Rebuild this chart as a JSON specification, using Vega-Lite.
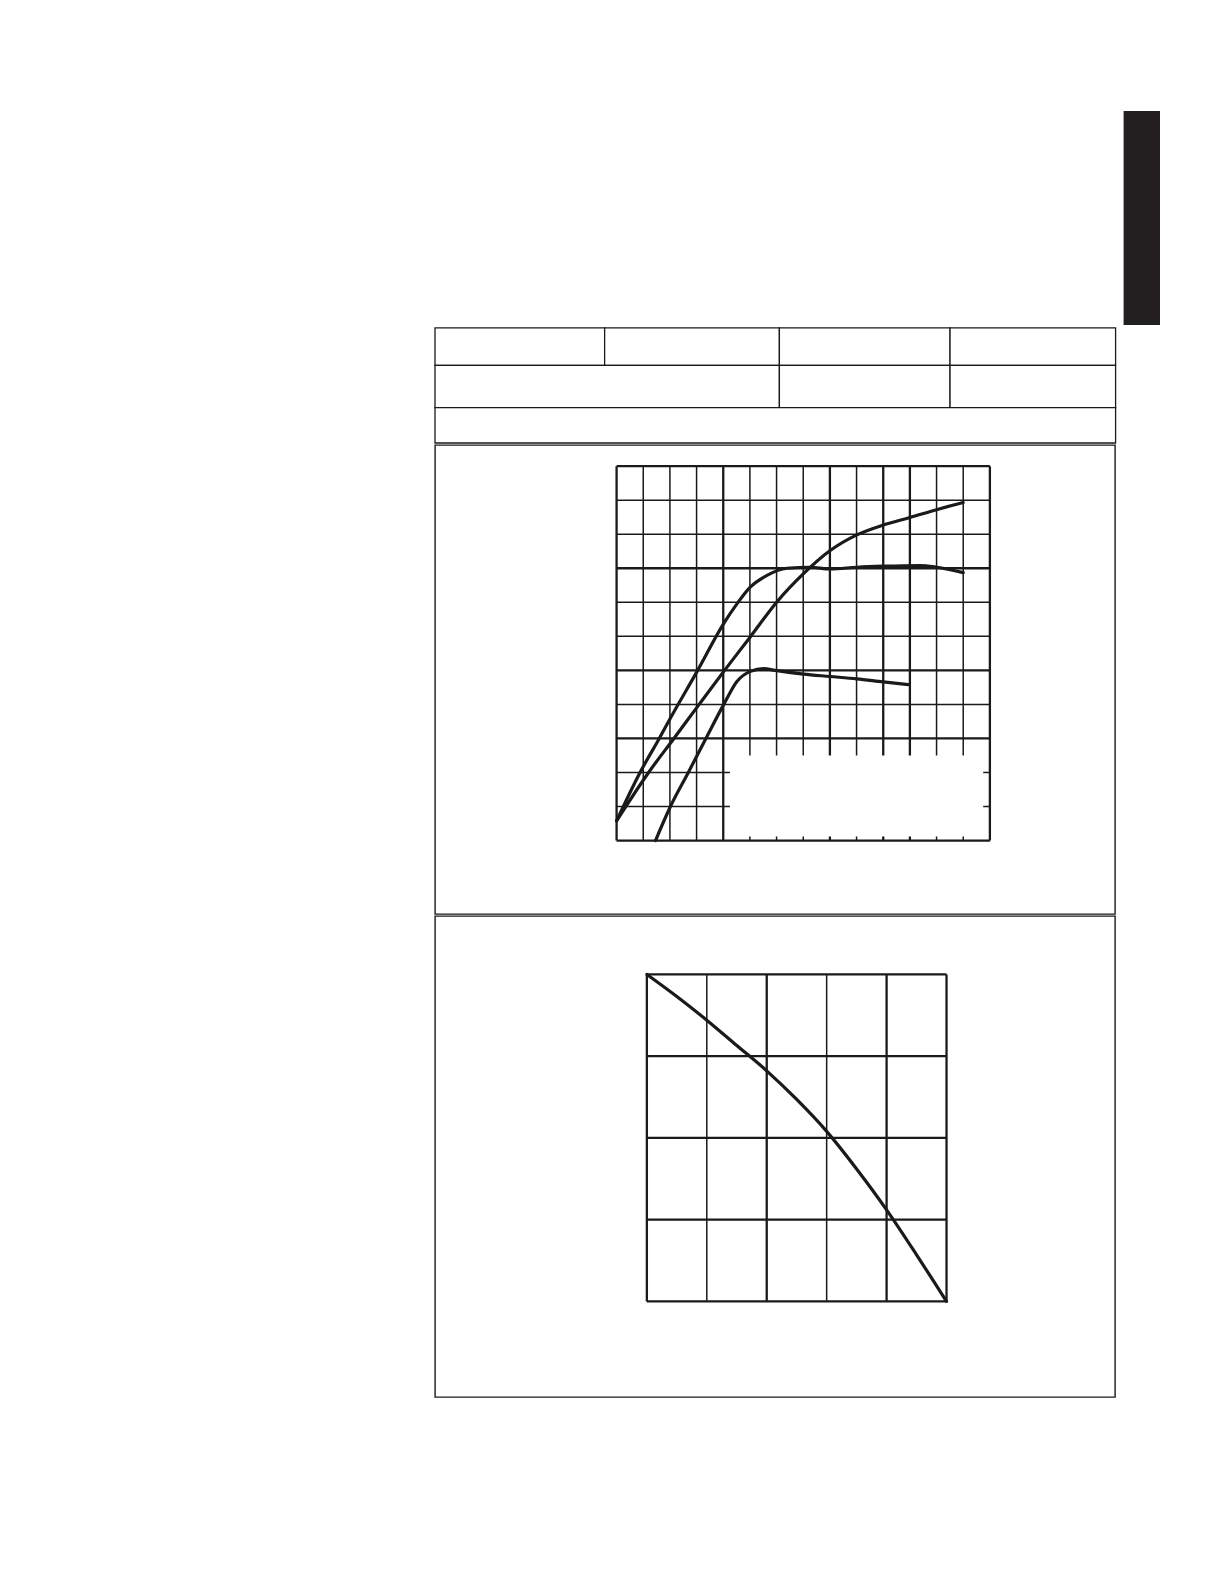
{
  "$schema": "https://vega.github.io/schema/vega-lite/v6.json",
  "background": "white",
  "padding": {"left": 434, "top": 111, "right": 0, "bottom": 0},
  "spacing": 0,
  "config": {"view": {"stroke": "#1a1a1a", "strokeWidth": 1.4}},
  "datasets": {
    "table": [
      {"x": 0, "x2": 0.997, "y": 2.2, "y2": 3.257},
      {"x": 0.997, "x2": 2.024, "y": 2.2, "y2": 3.257},
      {"x": 2.024, "x2": 3.027, "y": 2.2, "y2": 3.257},
      {"x": 3.027, "x2": 4.0, "y": 2.2, "y2": 3.257},
      {"x": 0, "x2": 2.024, "y": 1.0, "y2": 2.2},
      {"x": 2.024, "x2": 3.027, "y": 1.0, "y2": 2.2},
      {"x": 3.027, "x2": 4.0, "y": 1.0, "y2": 2.2},
      {"x": 0, "x2": 4.0, "y": 0, "y2": 1.0}
    ],
    "tab": [{"x": 4.047, "x2": 4.261, "y": 3.343, "y2": 9.4}],
    "grid1": [
      {"x": 0, "x2": 0, "y": 0, "y2": 11, "k": "major"},
      {"x": 1, "x2": 1, "y": 0, "y2": 11, "k": "minor"},
      {"x": 2, "x2": 2, "y": 0, "y2": 11, "k": "minor"},
      {"x": 3, "x2": 3, "y": 0, "y2": 11, "k": "minor"},
      {"x": 4, "x2": 4, "y": 0, "y2": 11, "k": "major"},
      {"x": 5, "x2": 5, "y": 2.5, "y2": 11, "k": "minor"},
      {"x": 6, "x2": 6, "y": 2.5, "y2": 11, "k": "minor"},
      {"x": 7, "x2": 7, "y": 2.5, "y2": 11, "k": "minor"},
      {"x": 8, "x2": 8, "y": 2.5, "y2": 11, "k": "major"},
      {"x": 9, "x2": 9, "y": 2.5, "y2": 11, "k": "minor"},
      {"x": 10, "x2": 10, "y": 2.5, "y2": 11, "k": "major"},
      {"x": 11, "x2": 11, "y": 2.5, "y2": 11, "k": "major"},
      {"x": 12, "x2": 12, "y": 2.5, "y2": 11, "k": "minor"},
      {"x": 13, "x2": 13, "y": 2.5, "y2": 11, "k": "minor"},
      {"x": 14, "x2": 14, "y": 0, "y2": 11, "k": "major"},
      {"x": 5, "x2": 5, "y": 0, "y2": 0.12, "k": "minor"},
      {"x": 6, "x2": 6, "y": 0, "y2": 0.12, "k": "minor"},
      {"x": 7, "x2": 7, "y": 0, "y2": 0.12, "k": "minor"},
      {"x": 8, "x2": 8, "y": 0, "y2": 0.12, "k": "major"},
      {"x": 9, "x2": 9, "y": 0, "y2": 0.12, "k": "minor"},
      {"x": 10, "x2": 10, "y": 0, "y2": 0.12, "k": "major"},
      {"x": 11, "x2": 11, "y": 0, "y2": 0.12, "k": "major"},
      {"x": 12, "x2": 12, "y": 0, "y2": 0.12, "k": "minor"},
      {"x": 13, "x2": 13, "y": 0, "y2": 0.12, "k": "minor"},
      {"x": 0, "x2": 14, "y": 0, "y2": 0, "k": "major"},
      {"x": 0, "x2": 4.25, "y": 1, "y2": 1, "k": "minor"},
      {"x": 13.75, "x2": 14, "y": 1, "y2": 1, "k": "minor"},
      {"x": 0, "x2": 4.25, "y": 2, "y2": 2, "k": "minor"},
      {"x": 13.75, "x2": 14, "y": 2, "y2": 2, "k": "minor"},
      {"x": 0, "x2": 14, "y": 3, "y2": 3, "k": "major"},
      {"x": 0, "x2": 14, "y": 4, "y2": 4, "k": "minor"},
      {"x": 0, "x2": 14, "y": 5, "y2": 5, "k": "major"},
      {"x": 0, "x2": 14, "y": 6, "y2": 6, "k": "minor"},
      {"x": 0, "x2": 14, "y": 7, "y2": 7, "k": "minor"},
      {"x": 0, "x2": 14, "y": 8, "y2": 8, "k": "major"},
      {"x": 0, "x2": 14, "y": 9, "y2": 9, "k": "minor"},
      {"x": 0, "x2": 14, "y": 10, "y2": 10, "k": "minor"},
      {"x": 0, "x2": 14, "y": 11, "y2": 11, "k": "major"}
    ],
    "curves1": [
      {"curve": "a", "x": 0, "y": 0.58},
      {"curve": "a", "x": 0.88, "y": 2.0},
      {"curve": "a", "x": 1.6, "y": 3.0},
      {"curve": "a", "x": 2.02, "y": 3.6},
      {"curve": "a", "x": 3.02, "y": 4.97},
      {"curve": "a", "x": 4.02, "y": 6.38},
      {"curve": "a", "x": 4.52, "y": 6.96},
      {"curve": "a", "x": 5.02, "y": 7.45},
      {"curve": "a", "x": 5.64, "y": 7.79},
      {"curve": "a", "x": 6.39, "y": 8.0},
      {"curve": "a", "x": 7.26, "y": 8.03},
      {"curve": "a", "x": 8.01, "y": 7.98},
      {"curve": "a", "x": 9.01, "y": 8.03},
      {"curve": "a", "x": 10.0, "y": 8.06},
      {"curve": "a", "x": 11.38, "y": 8.08},
      {"curve": "a", "x": 12.0, "y": 8.03},
      {"curve": "a", "x": 13.0, "y": 7.87},
      {"curve": "b", "x": 0, "y": 0.58},
      {"curve": "b", "x": 1.2, "y": 2.0},
      {"curve": "b", "x": 2.15, "y": 3.0},
      {"curve": "b", "x": 3.02, "y": 3.92},
      {"curve": "b", "x": 4.02, "y": 4.97},
      {"curve": "b", "x": 5.02, "y": 5.99},
      {"curve": "b", "x": 6.01, "y": 7.01},
      {"curve": "b", "x": 7.01, "y": 7.84},
      {"curve": "b", "x": 8.01, "y": 8.52},
      {"curve": "b", "x": 9.01, "y": 8.98},
      {"curve": "b", "x": 10.0, "y": 9.27},
      {"curve": "b", "x": 11.0, "y": 9.49},
      {"curve": "b", "x": 12.0, "y": 9.72},
      {"curve": "b", "x": 13.0, "y": 9.93},
      {"curve": "c", "x": 1.46, "y": 0},
      {"curve": "c", "x": 2.02, "y": 1.0},
      {"curve": "c", "x": 2.69, "y": 2.0},
      {"curve": "c", "x": 3.35, "y": 3.0},
      {"curve": "c", "x": 4.02, "y": 4.0},
      {"curve": "c", "x": 4.52, "y": 4.68},
      {"curve": "c", "x": 5.02, "y": 4.97},
      {"curve": "c", "x": 5.51, "y": 5.05},
      {"curve": "c", "x": 6.01, "y": 4.99},
      {"curve": "c", "x": 7.01, "y": 4.89},
      {"curve": "c", "x": 8.01, "y": 4.82},
      {"curve": "c", "x": 9.01, "y": 4.75},
      {"curve": "c", "x": 10.0, "y": 4.66},
      {"curve": "c", "x": 10.94, "y": 4.58}
    ],
    "grid2": [
      {"x": 0, "x2": 0, "y": 0, "y2": 4, "k": "major"},
      {"x": 1, "x2": 1, "y": 0, "y2": 4, "k": "minor"},
      {"x": 2, "x2": 2, "y": 0, "y2": 4, "k": "major"},
      {"x": 3, "x2": 3, "y": 0, "y2": 4, "k": "minor"},
      {"x": 4, "x2": 4, "y": 0, "y2": 4, "k": "major"},
      {"x": 5, "x2": 5, "y": 0, "y2": 4, "k": "major"},
      {"x": 0, "x2": 5, "y": 0, "y2": 0, "k": "major"},
      {"x": 0, "x2": 5, "y": 1, "y2": 1, "k": "major"},
      {"x": 0, "x2": 5, "y": 2, "y2": 2, "k": "major"},
      {"x": 0, "x2": 5, "y": 3, "y2": 3, "k": "major"},
      {"x": 0, "x2": 5, "y": 4, "y2": 4, "k": "major"}
    ],
    "curves2": [
      {"x": 0, "y": 4.0},
      {"x": 0.5, "y": 3.73},
      {"x": 1.0, "y": 3.44},
      {"x": 1.5, "y": 3.13},
      {"x": 2.0, "y": 2.82},
      {"x": 2.5, "y": 2.47},
      {"x": 3.0, "y": 2.08},
      {"x": 3.5, "y": 1.62},
      {"x": 4.0, "y": 1.12},
      {"x": 4.5, "y": 0.57},
      {"x": 5.0, "y": 0}
    ]
  },
  "vconcat": [
    {
      "width": 725,
      "height": 332,
      "view": {"stroke": null},
      "layer": [
        {
          "data": {"name": "table"},
          "mark": {"type": "rect", "fill": "white", "stroke": "#1a1a1a", "strokeWidth": 1.3},
          "encoding": {
            "x": {"field": "x", "type": "quantitative", "axis": null, "scale": {"domain": [0, 4.261], "nice": false, "zero": false}},
            "x2": {"field": "x2"},
            "y": {"field": "y", "type": "quantitative", "axis": null, "scale": {"domain": [0, 9.4], "nice": false, "zero": false}},
            "y2": {"field": "y2"}
          }
        },
        {
          "data": {"name": "tab"},
          "mark": {"type": "rect", "fill": "#231f20"},
          "encoding": {
            "x": {"field": "x", "type": "quantitative", "axis": null, "scale": {"domain": [0, 4.261], "nice": false, "zero": false}},
            "x2": {"field": "x2"},
            "y": {"field": "y", "type": "quantitative", "axis": null, "scale": {"domain": [0, 9.4], "nice": false, "zero": false}},
            "y2": {"field": "y2"}
          }
        }
      ]
    },
    {
      "width": 680,
      "height": 469,
      "layer": [
        {
          "data": {"name": "grid1"},
          "mark": {"type": "rule", "color": "#1a1a1a"},
          "encoding": {
            "x": {"field": "x", "type": "quantitative", "axis": null, "scale": {"domain": [-6.81, 18.692], "nice": false, "zero": false}},
            "x2": {"field": "x2"},
            "y": {"field": "y", "type": "quantitative", "axis": null, "scale": {"domain": [-2.158, 11.621], "nice": false, "zero": false}},
            "y2": {"field": "y2"},
            "strokeWidth": {"field": "k", "type": "nominal", "scale": {"domain": ["major", "minor"], "range": [2.3, 1.5]}, "legend": null}
          }
        },
        {
          "data": {"name": "curves1"},
          "mark": {"type": "line", "color": "#1a1a1a", "strokeWidth": 3.2, "interpolate": "monotone", "strokeCap": "round"},
          "encoding": {
            "x": {"field": "x", "type": "quantitative", "axis": null, "scale": {"domain": [-6.81, 18.692], "nice": false, "zero": false}},
            "y": {"field": "y", "type": "quantitative", "axis": null, "scale": {"domain": [-2.158, 11.621], "nice": false, "zero": false}},
            "detail": {"field": "curve", "type": "nominal"}
          }
        }
      ]
    },
    {
      "width": 680,
      "height": 481,
      "layer": [
        {
          "data": {"name": "grid2"},
          "mark": {"type": "rule", "color": "#1a1a1a"},
          "encoding": {
            "x": {"field": "x", "type": "quantitative", "axis": null, "scale": {"domain": [-3.535, 7.811], "nice": false, "zero": false}},
            "x2": {"field": "x2"},
            "y": {"field": "y", "type": "quantitative", "axis": null, "scale": {"domain": [-1.169, 4.714], "nice": false, "zero": false}},
            "y2": {"field": "y2"},
            "strokeWidth": {"field": "k", "type": "nominal", "scale": {"domain": ["major", "minor"], "range": [2.3, 1.5]}, "legend": null}
          }
        },
        {
          "data": {"name": "curves2"},
          "mark": {"type": "line", "color": "#1a1a1a", "strokeWidth": 3.2, "interpolate": "monotone", "strokeCap": "round"},
          "encoding": {
            "x": {"field": "x", "type": "quantitative", "axis": null, "scale": {"domain": [-3.535, 7.811], "nice": false, "zero": false}},
            "y": {"field": "y", "type": "quantitative", "axis": null, "scale": {"domain": [-1.169, 4.714], "nice": false, "zero": false}}
          }
        }
      ]
    }
  ]
}
